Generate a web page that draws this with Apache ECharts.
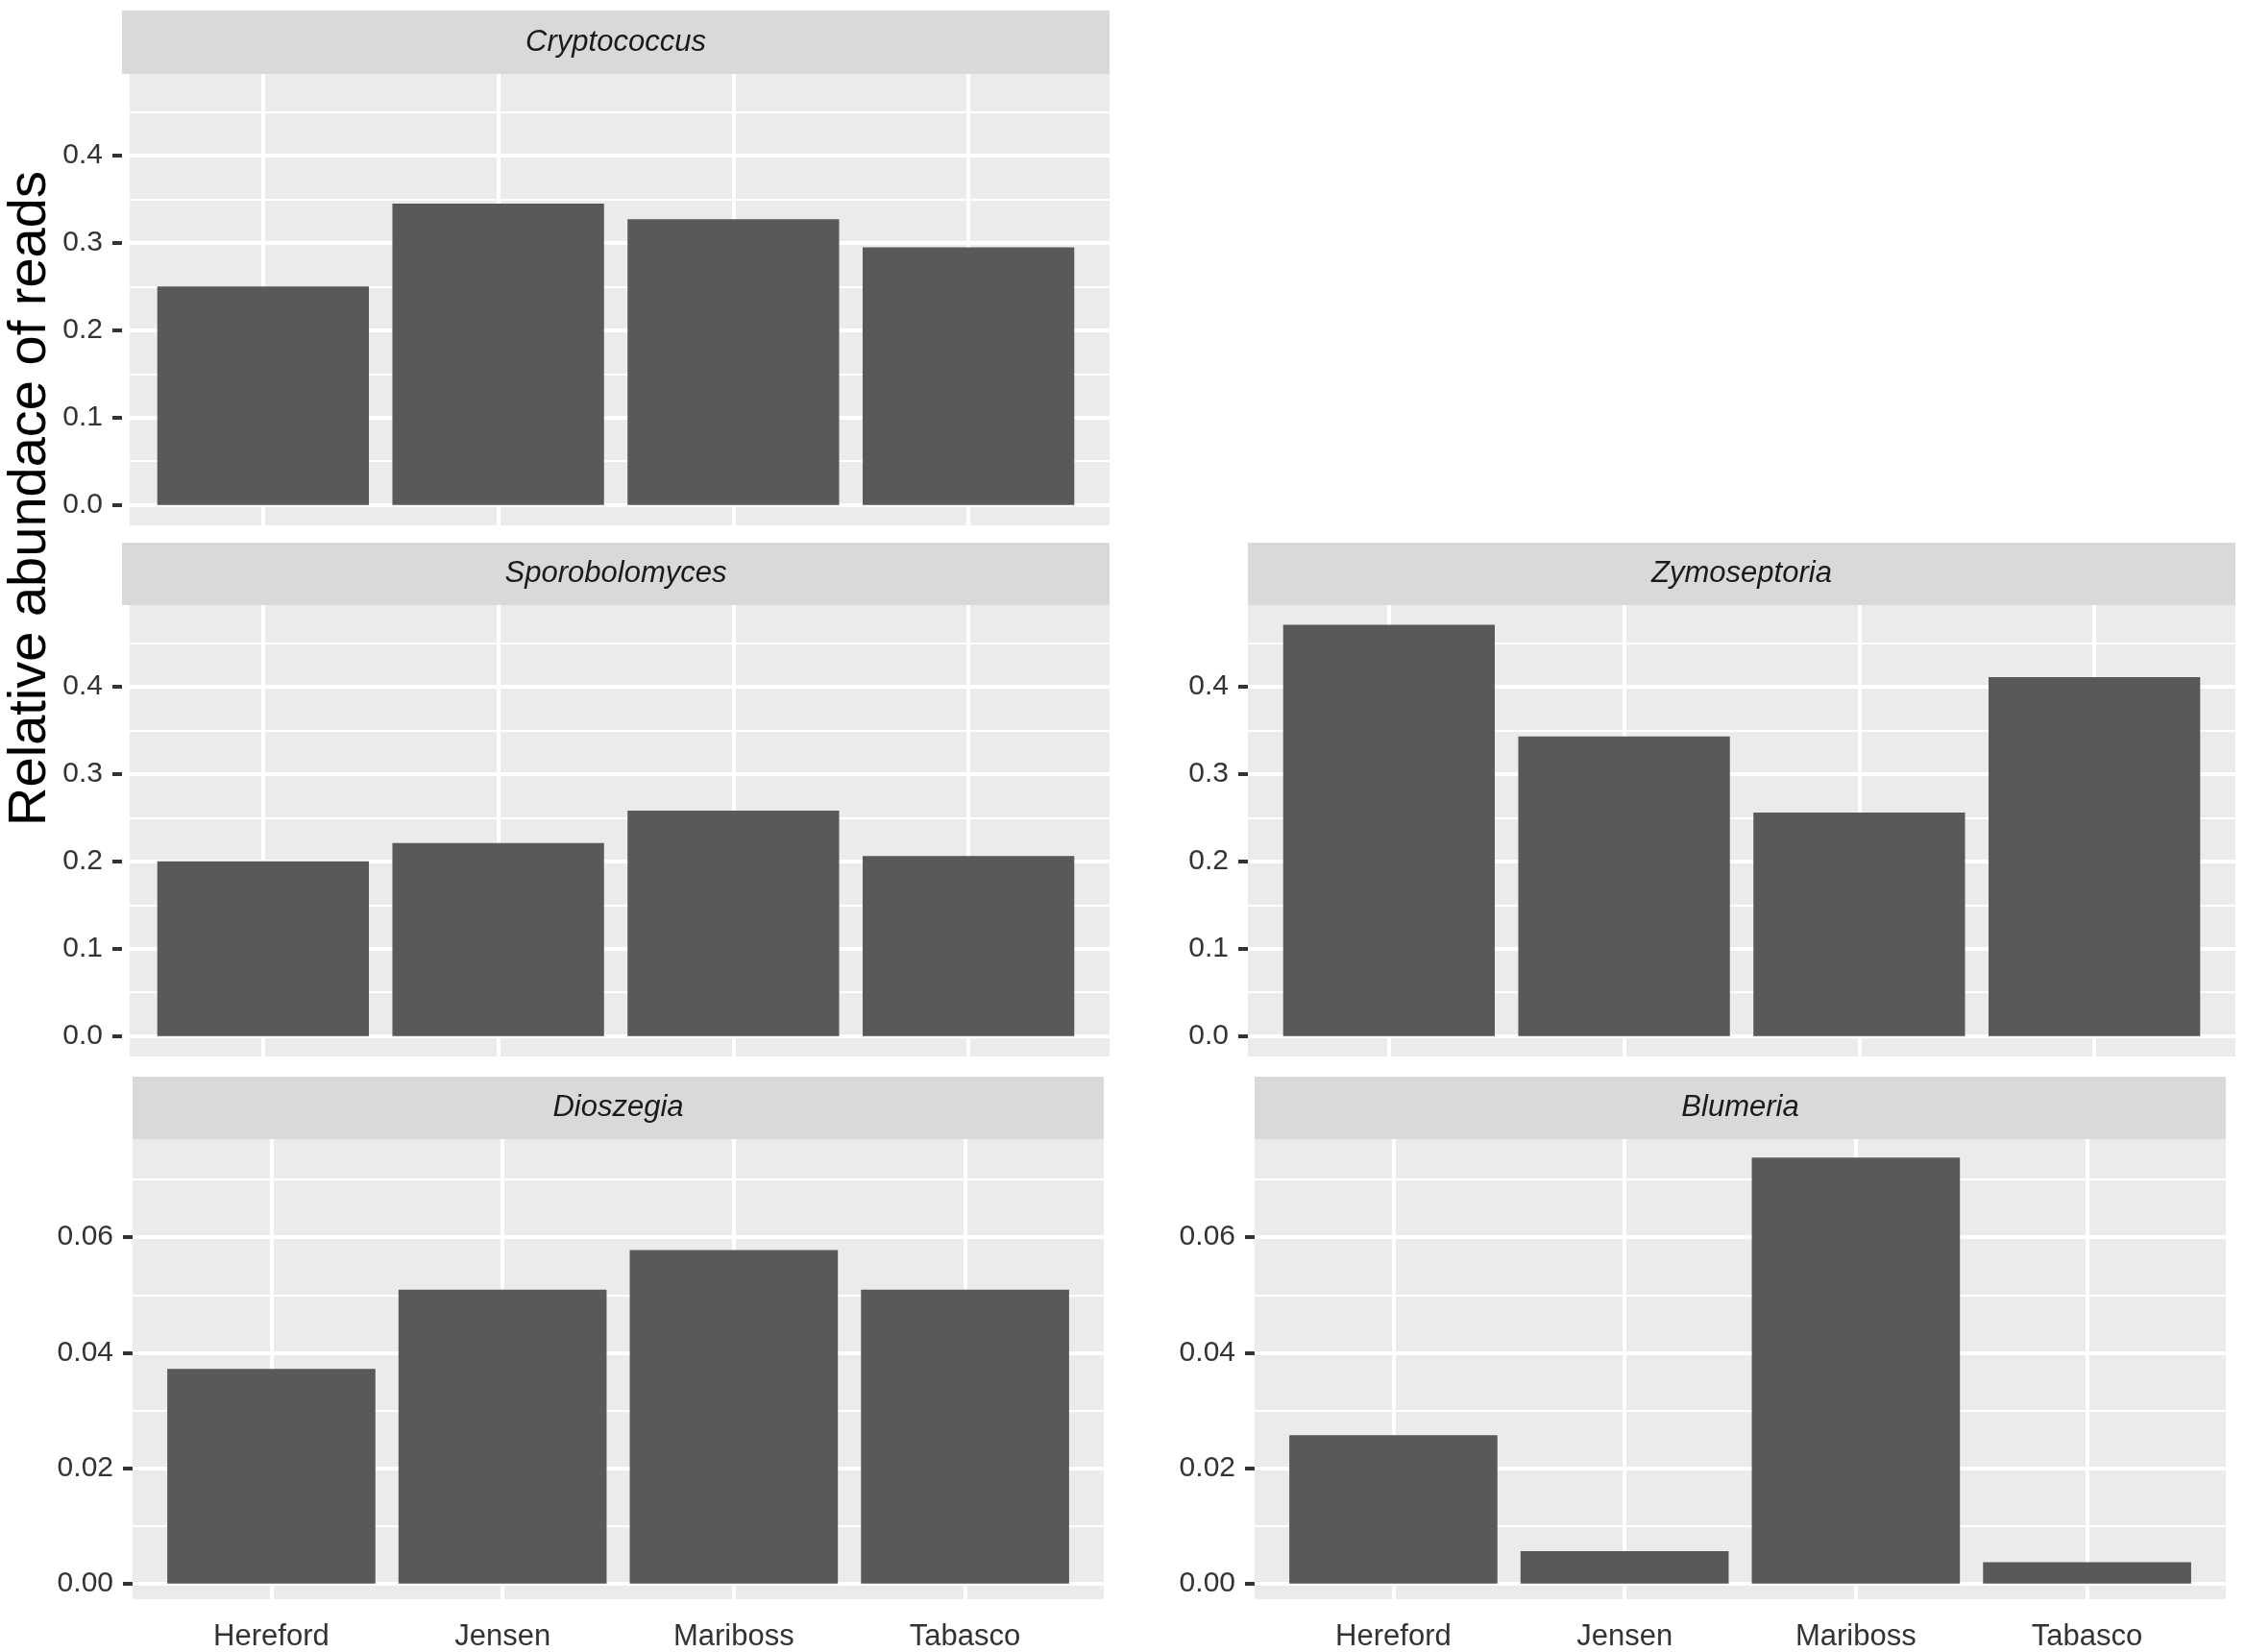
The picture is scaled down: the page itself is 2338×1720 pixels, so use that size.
<!DOCTYPE html>
<html lang="en">

<head>
    <meta charset="UTF-8">
    <title>Relative abundance of reads</title>
    <script src="https://cdn.jsdelivr.net/npm/echarts@6.0.0/dist/echarts.min.js"></script>
    <style>
        html, body {
            margin: 0;
            padding: 0;
            background: #fff;
        }
    </style>
</head>

<body>
    <div id="chart" style="width: 2338px; height: 1720px;"></div>

    <script>
        // data
        const categories = ['Hereford', 'Jensen', 'Mariboss', 'Tabasco'];
        const genera = ['Cryptococcus', 'Sporobolomyces', 'Zymoseptoria', 'Dioszegia', 'Blumeria'];
        const cryptococcus = [0.250, 0.345, 0.327, 0.295];
        const sporobolomyces = [0.200, 0.221, 0.258, 0.206];
        const zymoseptoria = [0.471, 0.343, 0.256, 0.411];
        const dioszegia = [0.0372, 0.0509, 0.0578, 0.0509];
        const blumeria = [0.0257, 0.0056, 0.0738, 0.0037];
        const upperTicks = [0, 0.1, 0.2, 0.3, 0.4];
        const upperMinor = [0.05, 0.15, 0.25, 0.35, 0.45];
        const lowerTicks = [0, 0.02, 0.04, 0.06];
        const lowerMinor = [0.01, 0.03, 0.05, 0.07];
        const yTitle = 'Relative abundace of reads';

        const abundance = [cryptococcus, sporobolomyces, zymoseptoria, dioszegia, blumeria];

        // panel placement (pixels); gap = white band at the panel's left edge
        const layout = [
            { left: 127, top: 77, width: 1028, height: 470, stripHeight: 66, gap: 8, scale: 'upper', xLabels: false },
            { left: 127, top: 630, width: 1028, height: 470, stripHeight: 65, gap: 8, scale: 'upper', xLabels: false },
            { left: 1299, top: 630, width: 1028, height: 470, stripHeight: 65, gap: 0, scale: 'upper', xLabels: false },
            { left: 138, top: 1186, width: 1011, height: 480, stripHeight: 65, gap: 0, scale: 'lower', xLabels: true },
            { left: 1306, top: 1186, width: 1011, height: 480, stripHeight: 65, gap: 0, scale: 'lower', xLabels: true }
        ];

        const scales = {
            upper: { min: -0.0235, max: 0.4935, ticks: upperTicks, minor: upperMinor, digits: 1 },
            lower: { min: -0.0027, max: 0.077, ticks: lowerTicks, minor: lowerMinor, digits: 2 }
        };

        const font = "'Liberation Sans', Arial, Helvetica, sans-serif";
        const positions = categories.map((c, i) => i + 1);

        let grids = [], xAxes = [], yAxes = [], series = [], graphics = [];

        layout.forEach((p, k) => {
            let s = scales[p.scale];

            grids.push({
                left: p.left, top: p.top, width: p.width, height: p.height,
                show: true, backgroundColor: '#EBEBEB', borderWidth: 0
            });

            xAxes.push({
                gridIndex: k,
                type: 'value',
                min: 0.4,
                max: 4.6,
                offset: 5,
                axisLine: { show: false },
                splitLine: { show: false },
                axisTick: {
                    show: p.xLabels,
                    customValues: positions,
                    length: 11,
                    lineStyle: { color: '#333', width: 4 }
                },
                axisLabel: {
                    show: p.xLabels,
                    customValues: positions,
                    formatter: v => categories[Math.round(v) - 1],
                    margin: 19,
                    fontSize: 31,
                    fontFamily: font,
                    color: '#333'
                }
            });

            yAxes.push({
                gridIndex: k,
                type: 'value',
                min: s.min,
                max: s.max,
                axisLine: { show: false },
                splitLine: { show: false },
                axisTick: {
                    customValues: s.ticks,
                    length: 10,
                    lineStyle: { color: '#333', width: 4 }
                },
                axisLabel: {
                    customValues: s.ticks,
                    formatter: v => v.toFixed(s.digits),
                    margin: 20,
                    fontSize: 30,
                    fontFamily: font,
                    color: '#333'
                }
            });

            let gridLines = []
                .concat(s.minor.map(v => ({ yAxis: v, lineStyle: { width: 2 } })))
                .concat(s.ticks.map(v => ({ yAxis: v, lineStyle: { width: 4 } })))
                .concat(positions.map(x => ({ xAxis: x, lineStyle: { width: 4 } })));

            series.push({
                name: genera[k],
                type: 'bar',
                xAxisIndex: k,
                yAxisIndex: k,
                barWidth: '90%',
                z: 2,
                itemStyle: { color: '#595959' },
                data: abundance[k].map((v, i) => [positions[i], v]),
                markLine: {
                    silent: true,
                    z: 1,
                    symbol: ['none', 'none'],
                    label: { show: false },
                    lineStyle: { color: '#FFFFFF', type: 'solid' },
                    emphasis: { disabled: true },
                    data: gridLines
                }
            });

            // facet strip
            graphics.push({
                type: 'rect',
                silent: true,
                shape: { x: p.left, y: p.top - p.stripHeight, width: p.width, height: p.stripHeight },
                style: { fill: '#D9D9D9' }
            });
            graphics.push({
                type: 'text',
                silent: true,
                x: p.left + p.width / 2,
                y: p.top - p.stripHeight / 2,
                style: {
                    text: genera[k],
                    align: 'center',
                    verticalAlign: 'middle',
                    fontSize: 31,
                    fontStyle: 'italic',
                    fontFamily: font,
                    fill: '#1A1A1A'
                }
            });
            if (p.gap) {
                graphics.push({
                    type: 'rect',
                    silent: true,
                    shape: { x: p.left, y: p.top, width: p.gap, height: p.height },
                    style: { fill: '#FFFFFF' }
                });
            }
        });

        graphics.push({
            type: 'text',
            silent: true,
            x: 32,
            y: 519,
            rotation: Math.PI / 2,
            style: {
                text: yTitle,
                align: 'center',
                verticalAlign: 'middle',
                fontSize: 56,
                fontFamily: font,
                fill: '#000'
            }
        });

        let chart = echarts.init(document.getElementById('chart'));

        chart.setOption({
            animation: false,
            backgroundColor: '#fff',
            grid: grids,
            xAxis: xAxes,
            yAxis: yAxes,
            series: series,
            graphic: graphics
        });

        window.addEventListener('resize', () => chart.resize());
    </script>
</body>

</html>
